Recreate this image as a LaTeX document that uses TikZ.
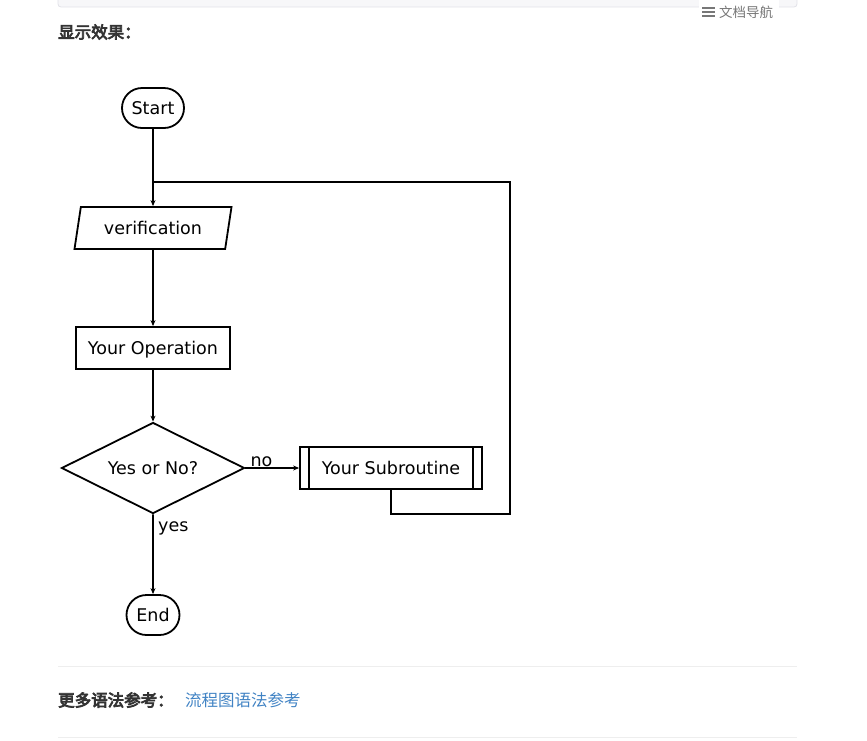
\documentclass[tikz,border=0pt]{standalone}
\usepackage{fontspec}
\setmainfont{DejaVu Sans}
\newfontfamily\cjk[AutoFakeBold=4.5]{Noto Sans CJK SC}
\usetikzlibrary{arrows.meta,shapes.geometric,shapes.misc}
\definecolor{linkblue}{HTML}{4183C4}
\definecolor{codebg}{HTML}{F7F7F9}
\definecolor{codeborder}{HTML}{E1E1E8}
\definecolor{rulegray}{HTML}{EEEEEE}
\definecolor{navgray}{HTML}{777777}
\definecolor{headblack}{HTML}{333333}
\tikzset{
  flow/.style={draw,line width=1.8pt,font=\fontsize{17.5}{20}\selectfont,inner sep=0pt,
    text height=13pt,text depth=0pt},
  terminal/.style={flow,rounded rectangle,minimum height=40pt},
  io/.style={flow,trapezium,trapezium left angle=64,trapezium right angle=116,
    trapezium stretches body,minimum width=157pt,minimum height=42pt},
  operation/.style={flow,rectangle,minimum width=154pt,minimum height=42pt},
  decision/.style={flow,diamond,aspect=2,minimum width=183pt,minimum height=91pt},
  subroutine/.style={flow,rectangle,minimum width=182pt,minimum height=42pt},
  conn/.style={line width=1.8pt,-{Stealth[length=6pt,width=5pt]}},
  link/.style={line width=1.8pt},
  edgelabel/.style={font=\fontsize{17.5}{20}\selectfont,inner sep=0pt}
}
\begin{document}
\begin{tikzpicture}[x=1pt,y=-1pt]
  \useasboundingbox (0,0) rectangle (867,740);
  % page decoration
  \draw[fill=codebg,draw=codeborder,line width=0.8pt,rounded corners=3pt] (58,-6) rectangle (797,7);
  \fill[white] (699,0) rectangle (779,23);
  \foreach \yy in {8,12,16}
    \draw[navgray,line width=2pt] (702,\yy) -- (715,\yy);
  \node[anchor=west,text=navgray,inner sep=0pt,font=\cjk\fontsize{13.5}{15}\selectfont] (nav) at (719,12) {文档导航};
  \node[anchor=west,text=headblack,inner sep=0pt,font=\cjk\bfseries\fontsize{16.5}{18}\selectfont] (head) at (58,32) {显示效果：};
  % flowchart
  \node[terminal,minimum width=62pt] (start) at (153,108) {Start};
  \node[io] (verif) at (153,228) {verification};
  \node[operation] (op) at (153,348) {Your Operation};
  \node[decision] (cond) at (153,468) {Yes or No?};
  \node[subroutine] (sub) at (391,468) {Your Subroutine};
  \node[terminal,minimum width=53pt] (end) at (153,615) {End};
  \draw[line width=1.8pt] ([xshift=10pt]sub.north west) -- ([xshift=10pt]sub.south west);
  \draw[line width=1.8pt] ([xshift=-10pt]sub.north east) -- ([xshift=-10pt]sub.south east);
  \coordinate (join) at (153,182);
  \coordinate (back) at (510,514);
  \draw[conn] (start) -- (verif);
  \draw[conn] (verif) -- (op);
  \draw[conn] (op) -- (cond);
  \draw[conn] (cond.east) -- (sub.west);
  \draw[conn] (cond.south) -- (end);
  \draw[link] (sub.south) |- (back) |- (join);
  \node[edgelabel,anchor=south west] (nolabel) at ([xshift=5pt,yshift=1pt]cond.east) {no};
  \node[edgelabel,anchor=north west] (yeslabel) at ([xshift=5pt,yshift=-7pt]cond.south) {yes};
  % footer
  \draw[rulegray,line width=1pt] (58,666) -- (797,666);
  \node[anchor=west,text=headblack,inner sep=0pt,font=\cjk\bfseries\fontsize{16.5}{18}\selectfont] (more) at (58,700) {更多语法参考：};
  \node[anchor=west,text=linkblue,inner sep=0pt,font=\cjk\fontsize{16.5}{18}\selectfont] (ref) at (185,700) {流程图语法参考};
  \draw[rulegray,line width=1pt] (58,737) -- (797,737);
\end{tikzpicture}
\end{document}
